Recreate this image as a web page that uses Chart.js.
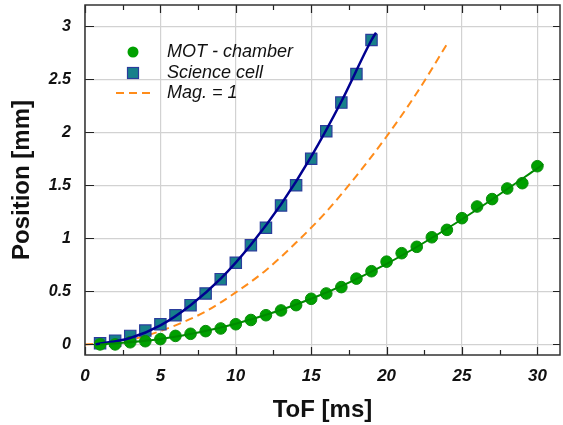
<!DOCTYPE html>
<html>
<head>
<meta charset="utf-8">
<script src="https://cdn.jsdelivr.net/npm/chart.js@4.4.0/dist/chart.umd.min.js"></script>
<style>
  html, body { margin: 0; padding: 0; background: #fff; }
  #wrap { width: 563px; height: 425px; }
</style>
</head>
<body>
<div id="wrap"><canvas id="tofChart"></canvas></div>
<script>
// MOT - chamber (green circles)
const motTof = [1, 2, 3, 4, 5, 6, 7, 8, 9, 10, 11, 12, 13, 14, 15, 16, 17, 18, 19, 20, 21, 22, 23, 24, 25, 26, 27, 28, 29, 30];
const motPos = [0.00, 0.00, 0.02, 0.03, 0.05, 0.08, 0.10, 0.125, 0.15, 0.19, 0.23, 0.275, 0.32, 0.37, 0.43, 0.48, 0.54, 0.62, 0.69, 0.78, 0.86, 0.92, 1.01, 1.08, 1.19, 1.30, 1.37, 1.47, 1.52, 1.68];

// Science cell (squares)
const sciTof = [1, 2, 3, 4, 5, 6, 7, 8, 9, 10, 11, 12, 13, 14, 15, 16, 17, 18, 19];
const sciPos = [0.01, 0.035, 0.08, 0.13, 0.19, 0.275, 0.37, 0.48, 0.615, 0.77, 0.935, 1.10, 1.31, 1.50, 1.75, 2.01, 2.28, 2.55, 2.87];

// fit curves
const motFitTof = [1, 5, 10, 15, 20, 25, 30, 30.4];
const motFitPos = [0.00, 0.05, 0.195, 0.43, 0.76, 1.18, 1.66, 1.70];
const sciFitTof = [0.7, 3, 5, 7, 9, 11, 13, 15, 17, 19, 19.3];
const sciFitPos = [0.00, 0.06, 0.18, 0.37, 0.62, 0.94, 1.32, 1.77, 2.29, 2.87, 2.94];

// Mag. = 1 (dashed)
const magTof = [0, 2, 4, 6, 8, 10, 12, 14, 16, 18, 20, 22, 24];
const magPos = [0.00, 0.02, 0.08, 0.18, 0.31, 0.49, 0.70, 0.96, 1.25, 1.59, 1.96, 2.37, 2.83];

// axes
const xTickMarks = [0, 2.5, 5, 7.5, 10, 12.5, 15, 17.5, 20, 22.5, 25, 27.5, 30];
const yTicks = [0, 0.5, 1, 1.5, 2, 2.5, 3];

const pts = (xs, ys) => xs.map((x, i) => ({ x: x, y: ys[i] }));

const GREEN = '#00a000';
const TEAL = '#17808a';
const NAVY = '#000090';
const ORANGE = '#ff8c1a';
const FONT = '"Liberation Sans", Arial, sans-serif';

// frame + inward ticks on all four sides
const framePlugin = {
  id: 'frame',
  afterDatasetsDraw(chart) {
    const { ctx, chartArea: a, scales } = chart;
    ctx.save();
    ctx.strokeStyle = '#222';
    ctx.lineWidth = 1.2;
    ctx.beginPath();
    xTickMarks.forEach(v => {
      const px = Math.round(scales.x.getPixelForValue(v)) + 0.5;
      const len = v % 5 === 0 ? 8 : 5;
      ctx.moveTo(px, a.bottom); ctx.lineTo(px, a.bottom - len);
      ctx.moveTo(px, a.top); ctx.lineTo(px, a.top + len);
    });
    yTicks.forEach(v => {
      const py = Math.round(scales.y.getPixelForValue(v)) + 0.5;
      ctx.moveTo(a.left, py); ctx.lineTo(a.left + 9, py);
      ctx.moveTo(a.right, py); ctx.lineTo(a.right - 7, py);
    });
    ctx.stroke();
    ctx.lineWidth = 1.5;
    ctx.strokeStyle = '#333';
    ctx.strokeRect(a.left, a.top, a.right - a.left, a.bottom - a.top);
    ctx.restore();
  }
};

// legend inside the plot
const legendPlugin = {
  id: 'insideLegend',
  afterDraw(chart) {
    const ctx = chart.ctx;
    const mx = 133, tx = 167;
    ctx.save();
    ctx.font = 'italic 18px ' + FONT;
    ctx.textBaseline = 'middle';

    ctx.beginPath();
    ctx.arc(mx, 52, 5.5, 0, Math.PI * 2);
    ctx.fillStyle = GREEN;
    ctx.fill();
    ctx.fillStyle = '#111';
    ctx.fillText('MOT - chamber', tx, 52);

    ctx.fillStyle = TEAL;
    ctx.fillRect(mx - 5.5, 73 - 5.5, 11, 11);
    ctx.strokeStyle = '#2a3c9c';
    ctx.lineWidth = 1.2;
    ctx.strokeRect(mx - 5.5, 73 - 5.5, 11, 11);
    ctx.fillStyle = '#111';
    ctx.fillText('Science cell', tx, 73);

    ctx.strokeStyle = ORANGE;
    ctx.lineWidth = 2;
    ctx.setLineDash([8, 5]);
    ctx.beginPath();
    ctx.moveTo(116, 93); ctx.lineTo(151, 93);
    ctx.stroke();
    ctx.setLineDash([]);
    ctx.fillText('Mag. = 1', tx, 93);
    ctx.restore();
  }
};

new Chart(document.getElementById('tofChart'), {
  type: 'scatter',
  data: {
    datasets: [
      {
        label: 'MOT - chamber',
        data: pts(motTof, motPos),
        pointStyle: 'circle',
        pointRadius: 5.8,
        backgroundColor: GREEN,
        borderColor: '#0a8a0a',
        borderWidth: 1,
        order: 1
      },
      {
        label: 'Science cell',
        data: pts(sciTof, sciPos),
        pointStyle: 'rect',
        pointRadius: 8,
        backgroundColor: TEAL,
        borderColor: '#2a3c9c',
        borderWidth: 1.2,
        order: 1
      },
      {
        label: 'Mag. = 1',
        data: pts(magTof, magPos),
        showLine: true,
        pointRadius: 0,
        borderColor: ORANGE,
        borderWidth: 2,
        borderDash: [8, 5],
        cubicInterpolationMode: 'monotone',
        order: 2
      },
      {
        label: 'MOT fit',
        data: pts(motFitTof, motFitPos),
        showLine: true,
        pointRadius: 0,
        borderColor: '#008a00',
        borderWidth: 2,
        cubicInterpolationMode: 'monotone',
        order: 0
      },
      {
        label: 'Science fit',
        data: pts(sciFitTof, sciFitPos),
        showLine: true,
        pointRadius: 0,
        borderColor: NAVY,
        borderWidth: 2.5,
        cubicInterpolationMode: 'monotone',
        order: 0
      }
    ]
  },
  options: {
    responsive: true,
    maintainAspectRatio: false,
    animation: false,
    layout: { autoPadding: false, padding: { top: 5, right: 3, left: 0, bottom: 0 } },
    plugins: {
      legend: { display: false },
      tooltip: { enabled: false }
    },
    scales: {
      x: {
        type: 'linear',
        min: 0,
        max: 31.5,
        afterBuildTicks: s => { s.ticks = xTickMarks.map(v => ({ value: v })); },
        afterFit: s => { s.height = 70; s.paddingLeft = 0; s.paddingRight = 0; },
        ticks: {
          autoSkip: false,
          maxRotation: 0,
          padding: 11,
          color: '#111',
          font: { family: FONT, size: 17, weight: 'bold', style: 'italic' },
          callback: v => (v % 5 === 0 ? String(v) : '')
        },
        grid: {
          drawTicks: false,
          color: c => (c.tick && c.tick.value % 5 === 0 ? '#d2d2d2' : 'rgba(0,0,0,0)'),
          lineWidth: 1.2
        },
        border: { display: false },
        title: {
          display: true,
          text: 'ToF [ms]',
          color: '#111',
          padding: 0,
          font: { family: FONT, size: 24, weight: 'bold' }
        }
      },
      y: {
        type: 'linear',
        min: -0.1,
        max: 3.2,
        afterBuildTicks: s => { s.ticks = yTicks.map(v => ({ value: v })); },
        afterFit: s => { s.width = 85; s.paddingTop = 0; s.paddingBottom = 0; },
        ticks: {
          padding: 14,
          color: '#111',
          font: { family: FONT, size: 16, weight: 'bold', style: 'italic' },
          callback: v => String(v)
        },
        grid: {
          drawTicks: false,
          color: '#d2d2d2',
          lineWidth: 1.2
        },
        border: { display: false },
        title: {
          display: true,
          text: 'Position [mm]',
          color: '#111',
          padding: { top: 8, bottom: 0 },
          font: { family: FONT, size: 24, weight: 'bold' }
        }
      }
    }
  },
  plugins: [framePlugin, legendPlugin]
});
</script>
</body>
</html>
